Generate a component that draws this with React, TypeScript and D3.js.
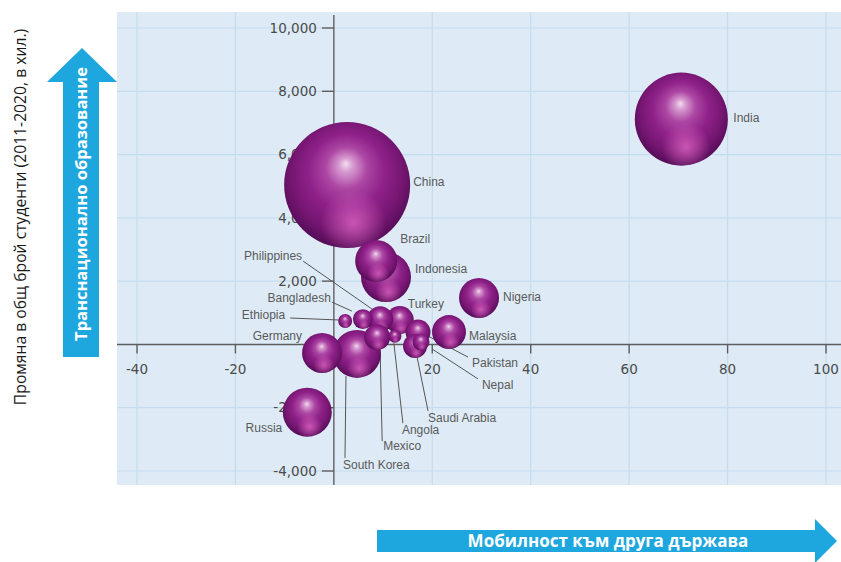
import React from "react";
import * as d3 from "d3";

// ---- data ----
const countries = ["China", "India", "Indonesia", "Russia", "South Korea", "Brazil", "Nigeria", "Germany", "Malaysia", "Turkey", "Philippines", "Mexico", "Pakistan", "Saudi Arabia", "Bangladesh", "Nepal", "Ethiopia", "Angola"];
const outboundMobility = [2.7, 70.6, 10.6, -5.4, 4.7, 8.6, 29.5, -2.4, 23.4, 13.4, 9.4, 8.8, 17.1, 16.5, 5.9, 17.7, 2.3, 12.4];
const studentChange = [5040, 7120, 2130, -2140, -300, 2640, 1470, -270, 390, 770, 800, 230, 390, -50, 800, 80, 740, 260];
const bubbleSize = [40000, 21800, 6300, 6050, 5800, 4450, 4030, 4030, 2900, 1975, 1700, 1700, 1575, 1450, 1000, 730, 490, 425];

const xTicks = [-40, -20, 20, 40, 60, 80, 100];
const yTicks = [-4000, -2000, 2000, 4000, 6000, 8000, 10000];

const yTitle = "Промяна в общ брой студенти (2011-2020, в хил.)";
const yArrowText = "Транснационално образование";
const xArrowText = "Мобилност към друга държава";

// ---- label layout (pixel offsets from bubble centre) ----
type LabelPos = { dx: number; dy: number; anchor: "start" | "end"; line?: [number, number, number, number] };
const labelLayout: Record<string, LabelPos> = {
  India: { dx: 52, dy: -1, anchor: "start" },
  China: { dx: 66, dy: -3, anchor: "start" },
  Brazil: { dx: 24, dy: -22, anchor: "start" },
  Indonesia: { dx: 29, dy: -8, anchor: "start" },
  Nigeria: { dx: 24, dy: -1, anchor: "start" },
  Malaysia: { dx: 20, dy: 4, anchor: "start" },
  Turkey: { dx: 8, dy: -16, anchor: "start" },
  Pakistan: { dx: 54, dy: 31, anchor: "start", line: [50, 25, 10, 4] },
  Nepal: { dx: 61, dy: 43, anchor: "start", line: [57, 37, 11, 7] },
  "Saudi Arabia": { dx: 13, dy: 72, anchor: "start", line: [13, 65, 2, 11] },
  Angola: { dx: 7, dy: 94, anchor: "start", line: [8, 87, -1, 7] },
  Mexico: { dx: 6, dy: 109, anchor: "start", line: [5, 104, 3, 13] },
  "South Korea": { dx: -14, dy: 111, anchor: "start", line: [-12, 104, -11, 22] },
  Russia: { dx: -25, dy: 16, anchor: "end" },
  Germany: { dx: -20, dy: -17, anchor: "end" },
  Ethiopia: { dx: -60, dy: -6, anchor: "end", line: [-55, -3, -6, -1] },
  Bangladesh: { dx: -32, dy: -21, anchor: "end", line: [-31, -17, -11, -8] },
  Philippines: { dx: -78, dy: -63, anchor: "end", line: [-77, -58, -8, -10] },
};

const W = 841;
const H = 562;

export default function App() {
  const x = d3.scaleLinear().domain([-40, 100]).range([137, 826]);
  const y = d3.scaleLinear().domain([-4000, 10000]).range([471, 28]);
  const r = d3.scaleSqrt().domain([0, 40000]).range([0, 63]);
  const fmt = (v: number) => d3.format(",")(v).replace("\u2212", "-");

  const plot = { left: 117, right: 841, top: 12, bottom: 485 };
  const x0 = x(0);
  const y0 = y(0);

  const items = countries
    .map((c, i) => ({ name: c, cx: x(outboundMobility[i]), cy: y(studentChange[i]), rad: r(bubbleSize[i]) }))
    .sort((a, b) => b.rad - a.rad);

  const blue = "#1ea6de";
  const axisCol = "#5e5e5e";

  return (
    <svg width={W} height={H} style={{ position: "absolute", left: 0, top: 0, background: "#fff" }}>
      <defs>
        <radialGradient id="ball" cx="0.5" cy="0.45" r="0.55" fx="0.49" fy="0.33">
          <stop offset="0" stopColor="#f2dff0" />
          <stop offset="0.1" stopColor="#d79bd0" />
          <stop offset="0.3" stopColor="#ac46a3" />
          <stop offset="0.55" stopColor="#8f2189" />
          <stop offset="0.8" stopColor="#761672" />
          <stop offset="1" stopColor="#540c57" />
        </radialGradient>
        <radialGradient id="glow" cx="0.55" cy="0.8" r="0.26">
          <stop offset="0" stopColor="#e86fcb" stopOpacity="0.7" />
          <stop offset="1" stopColor="#e86fcb" stopOpacity="0" />
        </radialGradient>
      </defs>

      {/* plot background */}
      <rect x={plot.left} y={plot.top} width={plot.right - plot.left} height={plot.bottom - plot.top} fill="#deebf6" />
      {xTicks.map((t) => (
        <line key={"gx" + t} x1={x(t)} x2={x(t)} y1={plot.top} y2={plot.bottom} stroke="#c5dcef" strokeWidth={1.2} />
      ))}
      {yTicks.map((t) => (
        <line key={"gy" + t} x1={plot.left} x2={plot.right} y1={y(t)} y2={y(t)} stroke="#c5dcef" strokeWidth={1.2} />
      ))}

      {/* axes */}
      <line x1={plot.left} x2={plot.right} y1={y0} y2={y0} stroke={axisCol} strokeWidth={1.4} />
      <line x1={x0} x2={x0} y1={15} y2={plot.bottom} stroke={axisCol} strokeWidth={1.4} />
      {yTicks.map((t) => (
        <g key={"ty" + t}>
          <line x1={x0 - 12} x2={x0} y1={y(t)} y2={y(t)} stroke={axisCol} strokeWidth={1.4} />
          <text x={x0 - 17} y={y(t)} dy="0.35em" textAnchor="end" fontFamily="DejaVu Sans" fontSize={13.5} fill="#4a4a4a">
            {fmt(t)}
          </text>
        </g>
      ))}
      {xTicks.map((t) => (
        <g key={"tx" + t}>
          <line x1={x(t)} x2={x(t)} y1={y0} y2={y0 + 9} stroke={axisCol} strokeWidth={1.4} />
          <text x={x(t)} y={y0 + 25} dy="0.35em" textAnchor="middle" fontFamily="DejaVu Sans" fontSize={13.5} fill="#4a4a4a">
            {fmt(t)}
          </text>
        </g>
      ))}

      {/* leader lines */}
      {items.map((d) => {
        const L = labelLayout[d.name];
        if (!L || !L.line) return null;
        return (
          <line key={"l" + d.name} x1={d.cx + L.line[0]} y1={d.cy + L.line[1]} x2={d.cx + L.line[2]} y2={d.cy + L.line[3]} stroke="#555" strokeWidth={1} />
        );
      })}

      {/* bubbles */}
      {items.map((d) => (
        <g key={"b" + d.name}>
          <circle cx={d.cx} cy={d.cy} r={d.rad} fill="url(#ball)" />
          <circle cx={d.cx} cy={d.cy} r={d.rad} fill="url(#glow)" />
        </g>
      ))}

      {/* country labels */}
      {items.map((d) => {
        const L = labelLayout[d.name];
        return (
          <text key={"t" + d.name} x={d.cx + L.dx} y={d.cy + L.dy} dy="0.35em" textAnchor={L.anchor} fontFamily="Liberation Sans" fontSize={12} fill="#5a5a5a">
            {d.name}
          </text>
        );
      })}

      {/* vertical arrow */}
      <path d="M63,357 L63,82 L47,82 L82,48 L117,82 L99,82 L99,357 Z" fill={blue} />
      <text transform="translate(81,204) rotate(-90)" textAnchor="middle" dy="0.36em" fontFamily="Open Sans" fontWeight={700} fontSize={16.5} fill="#fff">
        {yArrowText}
      </text>
      <text transform="translate(20,217) rotate(-90)" textAnchor="middle" dy="0.36em" fontFamily="Open Sans" fontSize={15.7} fill="#1a1a1a">
        {yTitle}
      </text>

      {/* horizontal arrow */}
      <path d="M377,530 L815,530 L815,519 L837,541 L815,563 L815,552 L377,552 Z" fill={blue} />
      <text x={608} y={541} dy="0.36em" textAnchor="middle" fontFamily="Open Sans" fontWeight={700} fontSize={17} fill="#fff">
        {xArrowText}
      </text>
    </svg>
  );
}
